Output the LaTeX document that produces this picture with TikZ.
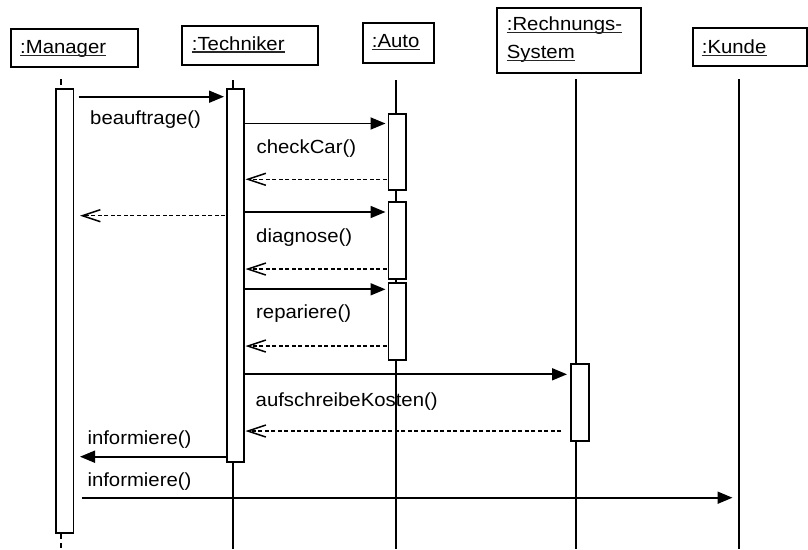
\documentclass[tikz,border=0pt]{standalone}
\usepackage{fontspec}
\setmainfont{Liberation Sans}[FakeStretch=1.07]
\usetikzlibrary{arrows.meta,calc}
\begin{document}
\begin{tikzpicture}[x=1pt,y=-1pt,
  obj/.style={draw, line width=2pt, anchor=north west, inner sep=0pt, rectangle},
  lbl/.style={font=\fontsize{19}{27.6}\selectfont, inner sep=0pt, anchor=base west},
  ul/.style={line width=1.3pt, black!85},
  life/.style={line width=1.5pt},
  act/.style={draw, fill=white, line width=1.8pt, inner sep=0pt, minimum width=17.5pt},
  call/.style={line width=1.8pt, -{Triangle[length=15pt,width=12pt]}},
  ret/.style={line width=1.3pt, dash pattern=on 4pt off 2.5pt, -{Straight Barb[length=18pt,width=12pt,line width=1.5pt]}}
]
\useasboundingbox (0,0) rectangle (808,549);

% object boxes
\node[obj, minimum width=127pt, minimum height=37.5pt] (mgr) at (10,28) {};
\node[obj, minimum width=135.5pt, minimum height=39.5pt] (tech) at (181,24.5) {};
\node[obj, minimum width=70.5pt, minimum height=39.5pt] (auto) at (362.3,22.3) {};
\node[obj, minimum width=144pt, minimum height=64.5pt] (rech) at (496,7.3) {};
\node[obj, minimum width=114pt, minimum height=37.7pt] (kunde) at (692,27.3) {};

% object labels
\node[lbl] (mgrL) at (20,53.3) {:Manager};
\node[lbl] (techL) at (191.7,50) {:Techniker};
\node[lbl] (autoL) at (371.7,47.3) {:Auto};
\node[lbl] (rechLa) at (506.7,30.7) {:Rechnungs-};
\node[lbl] (rechLb) at (506.7,58.3) {System};
\node[lbl] (kundeL) at (701.7,53.3) {:Kunde};
\draw[ul] ($(mgrL.base west)+(0,2)$) -- ($(mgrL.base east)+(0,2)$);
\draw[ul] ($(techL.base west)+(0,2)$) -- ($(techL.base east)+(0,2)$);
\draw[ul] ($(autoL.base west)+(0,2)$) -- ($(autoL.base east)+(0,2)$);
\draw[ul] ($(rechLa.base west)+(0,2)$) -- ($(rechLa.base east)+(0,2)$);
\coordinate (sysUa) at (506.7,60.5);
\coordinate (sysUb) at (574.5,60.5);
\draw[ul] (sysUa) -- (sysUb);
\draw[ul] ($(kundeL.base west)+(0,2)$) -- ($(kundeL.base east)+(0,2)$);

% lifelines
\coordinate (mgrT) at (61,79);  \coordinate (mgrTb) at (61,89);
\coordinate (mgrBa) at (61,534); \coordinate (mgrB) at (61,549);
\coordinate (techT) at (232.8,80);  \coordinate (techB) at (232.8,549);
\coordinate (autoT) at (396,80);  \coordinate (autoB) at (396,549);
\coordinate (rechT) at (576,79);  \coordinate (rechB) at (576,549);
\coordinate (kundeT) at (739,79);  \coordinate (kundeB) at (739,549);
\draw[life, dash pattern=on 6pt off 4pt] (mgrT) -- (mgrTb);
\draw[life, dash pattern=on 5pt off 4pt] (mgrBa) -- (mgrB);
\draw[life] (techT) -- (techB);
\draw[life] (autoT) -- (autoB);
\draw[life] (rechT) -- (rechB);
\draw[life] (kundeT) -- (kundeB);

% activation bars
\node[act, minimum height=444pt] (mgrAct) at (64.75,311) {};
\node[act, minimum height=373pt] (techAct) at (235.6,275.5) {};
\node[act, minimum height=76pt] (autoAct1) at (397.3,152) {};
\node[act, minimum height=77pt] (autoAct2) at (397.3,240.5) {};
\node[act, minimum height=77pt] (autoAct3) at (397.3,321.5) {};
\node[act, minimum height=77pt] (rechAct) at (580,402.5) {};

% message end points
\coordinate (m1a) at (78.5,96.7);  \coordinate (m1b) at (224,96.7);
\coordinate (m2a) at (245,123.5);  \coordinate (m2b) at (385.5,123.5);
\coordinate (r2a) at (386.7,179.3); \coordinate (r2b) at (245.5,179.3);
\coordinate (r1a) at (225,215.7);  \coordinate (r1b) at (80,215.7);
\coordinate (m3a) at (244.3,212);  \coordinate (m3b) at (385.5,212);
\coordinate (r3a) at (386.7,269);  \coordinate (r3b) at (245.5,269);
\coordinate (m4a) at (244.3,289.3); \coordinate (m4b) at (385.5,289.3);
\coordinate (r4a) at (386.7,346);  \coordinate (r4b) at (245.5,346);
\coordinate (m5a) at (244.3,374.3); \coordinate (m5b) at (567,374.3);
\coordinate (r5a) at (561,431);    \coordinate (r5b) at (245.5,431);
\coordinate (m6a) at (226,456.7);  \coordinate (m6b) at (80,456.7);
\coordinate (m7a) at (81.7,497.7); \coordinate (m7b) at (732.5,497.7);

\draw[call] (m1a) -- (m1b);
\draw[call] (m2a) -- (m2b);
\draw[ret] (r2a) -- (r2b);
\draw[ret] (r1a) -- (r1b);
\draw[call] (m3a) -- (m3b);
\draw[ret] (r3a) -- (r3b);
\draw[call] (m4a) -- (m4b);
\draw[ret] (r4a) -- (r4b);
\draw[call] (m5a) -- (m5b);
\draw[ret] (r5a) -- (r5b);
\draw[call] (m6a) -- (m6b);
\draw[call] (m7a) -- (m7b);

% message labels
\node[lbl] (l1) at (90,124.3) {beauftrage()};
\node[lbl] (l2) at (256.5,153) {checkCar()};
\node[lbl] (l3) at (256,242.7) {diagnose()};
\node[lbl] (l4) at (256,318.7) {repariere()};
\node[lbl] (l5) at (255.5,406.5) {aufschreibeKosten()};
\node[lbl] (l6) at (87.3,444) {informiere()};
\node[lbl] (l7) at (87.3,486) {informiere()};
\end{tikzpicture}
\end{document}
